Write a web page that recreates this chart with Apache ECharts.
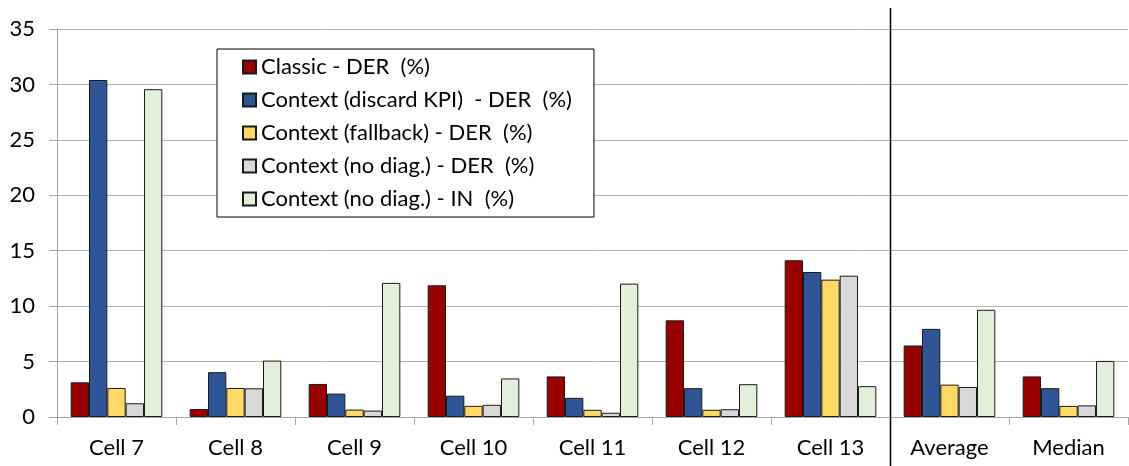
<!DOCTYPE html>
<html><head><meta charset="utf-8">
<script src="https://cdn.jsdelivr.net/npm/echarts@6/dist/echarts.min.js"></script>
<style>html,body{margin:0;padding:0;background:#fff}#c{width:1129px;height:466px}</style>
</head><body><div id="c"></div>
<script>
const categories = ['Cell 7','Cell 8','Cell 9','Cell 10','Cell 11','Cell 12','Cell 13','Average','Median'];
const seriesNames = ['Classic - DER  (%)','Context (discard KPI)  - DER  (%)','Context (fallback) - DER  (%)','Context (no diag.) - DER  (%)','Context (no diag.) - IN  (%)'];
const classicDer = [3.13,0.72,2.98,11.88,3.66,8.72,14.14,6.45,3.66];
const discardDer = [30.4,4.04,2.11,1.92,1.73,2.6,13.08,7.95,2.6];
const fallbackDer = [2.62,2.62,0.67,1.01,0.65,0.65,12.39,2.92,1.0];
const noDiagDer = [1.24,2.59,0.58,1.1,0.38,0.7,12.75,2.71,1.05];
const noDiagIn = [29.57,5.09,12.1,3.48,12.03,2.96,2.78,9.67,5.06];
const colors = ['#990000','#2F5597','#FFD966','#D9D9D9','#E2EFDA'];
const yTicks = {min:0,max:35,interval:5};

const FONT = 'Lato';
const allData = [classicDer,discardDer,fallbackDer,noDiagDer,noDiagIn];
const chart = echarts.init(document.getElementById('c'));
const option = {
  animation:false,
  textStyle:{fontFamily:FONT},
  grid:{left:57,right:1,top:29,bottom:49,containLabel:false},
  legend:{
    orient:'vertical',left:217,top:49,
    padding:[7,22,7,25],
    backgroundColor:'#fff',borderColor:'#000',borderWidth:1,
    icon:'rect',
    itemWidth:13,itemHeight:13,itemGap:11,
    textStyle:{fontFamily:FONT,fontSize:22,color:'#000'},
    data:seriesNames
  },
  xAxis:{
    type:'category',data:categories,
    axisLine:{lineStyle:{color:'#A6A6A6',width:1}},
    axisTick:{show:true,length:8,interval:0,lineStyle:{color:'#A6A6A6'}},
    axisLabel:{interval:0,margin:20,fontSize:22,color:'#000',fontFamily:FONT}
  },
  yAxis:{
    type:'value',min:yTicks.min,max:yTicks.max,interval:yTicks.interval,
    axisLine:{show:true,lineStyle:{color:'#A6A6A6'}},
    axisTick:{show:true,length:8,lineStyle:{color:'#A6A6A6'}},
    splitLine:{lineStyle:{color:'#B3B3B3',width:1}},
    axisLabel:{margin:22,fontSize:22,color:'#000',fontFamily:FONT}
  },
  series: allData.map((d,i)=>({
    name:seriesNames[i],type:'bar',data:d,
    barGap:'0%',barCategoryGap:'23%',
    itemStyle:{color:colors[i],borderColor:'#1a1a1a',borderWidth:1}
  }))
};
chart.setOption(option);
// separator between Cell 13 and Average, derived from the category scale
const xa = chart.convertToPixel({xAxisIndex:0},'Cell 13');
const xb = chart.convertToPixel({xAxisIndex:0},'Average');
const sx = Math.round((xa+xb)/2)+0.5;
chart.setOption({graphic:[{type:'line',shape:{x1:sx,y1:8,x2:sx,y2:466},style:{stroke:'#000',lineWidth:1.5},z:100}]});
</script></body></html>
